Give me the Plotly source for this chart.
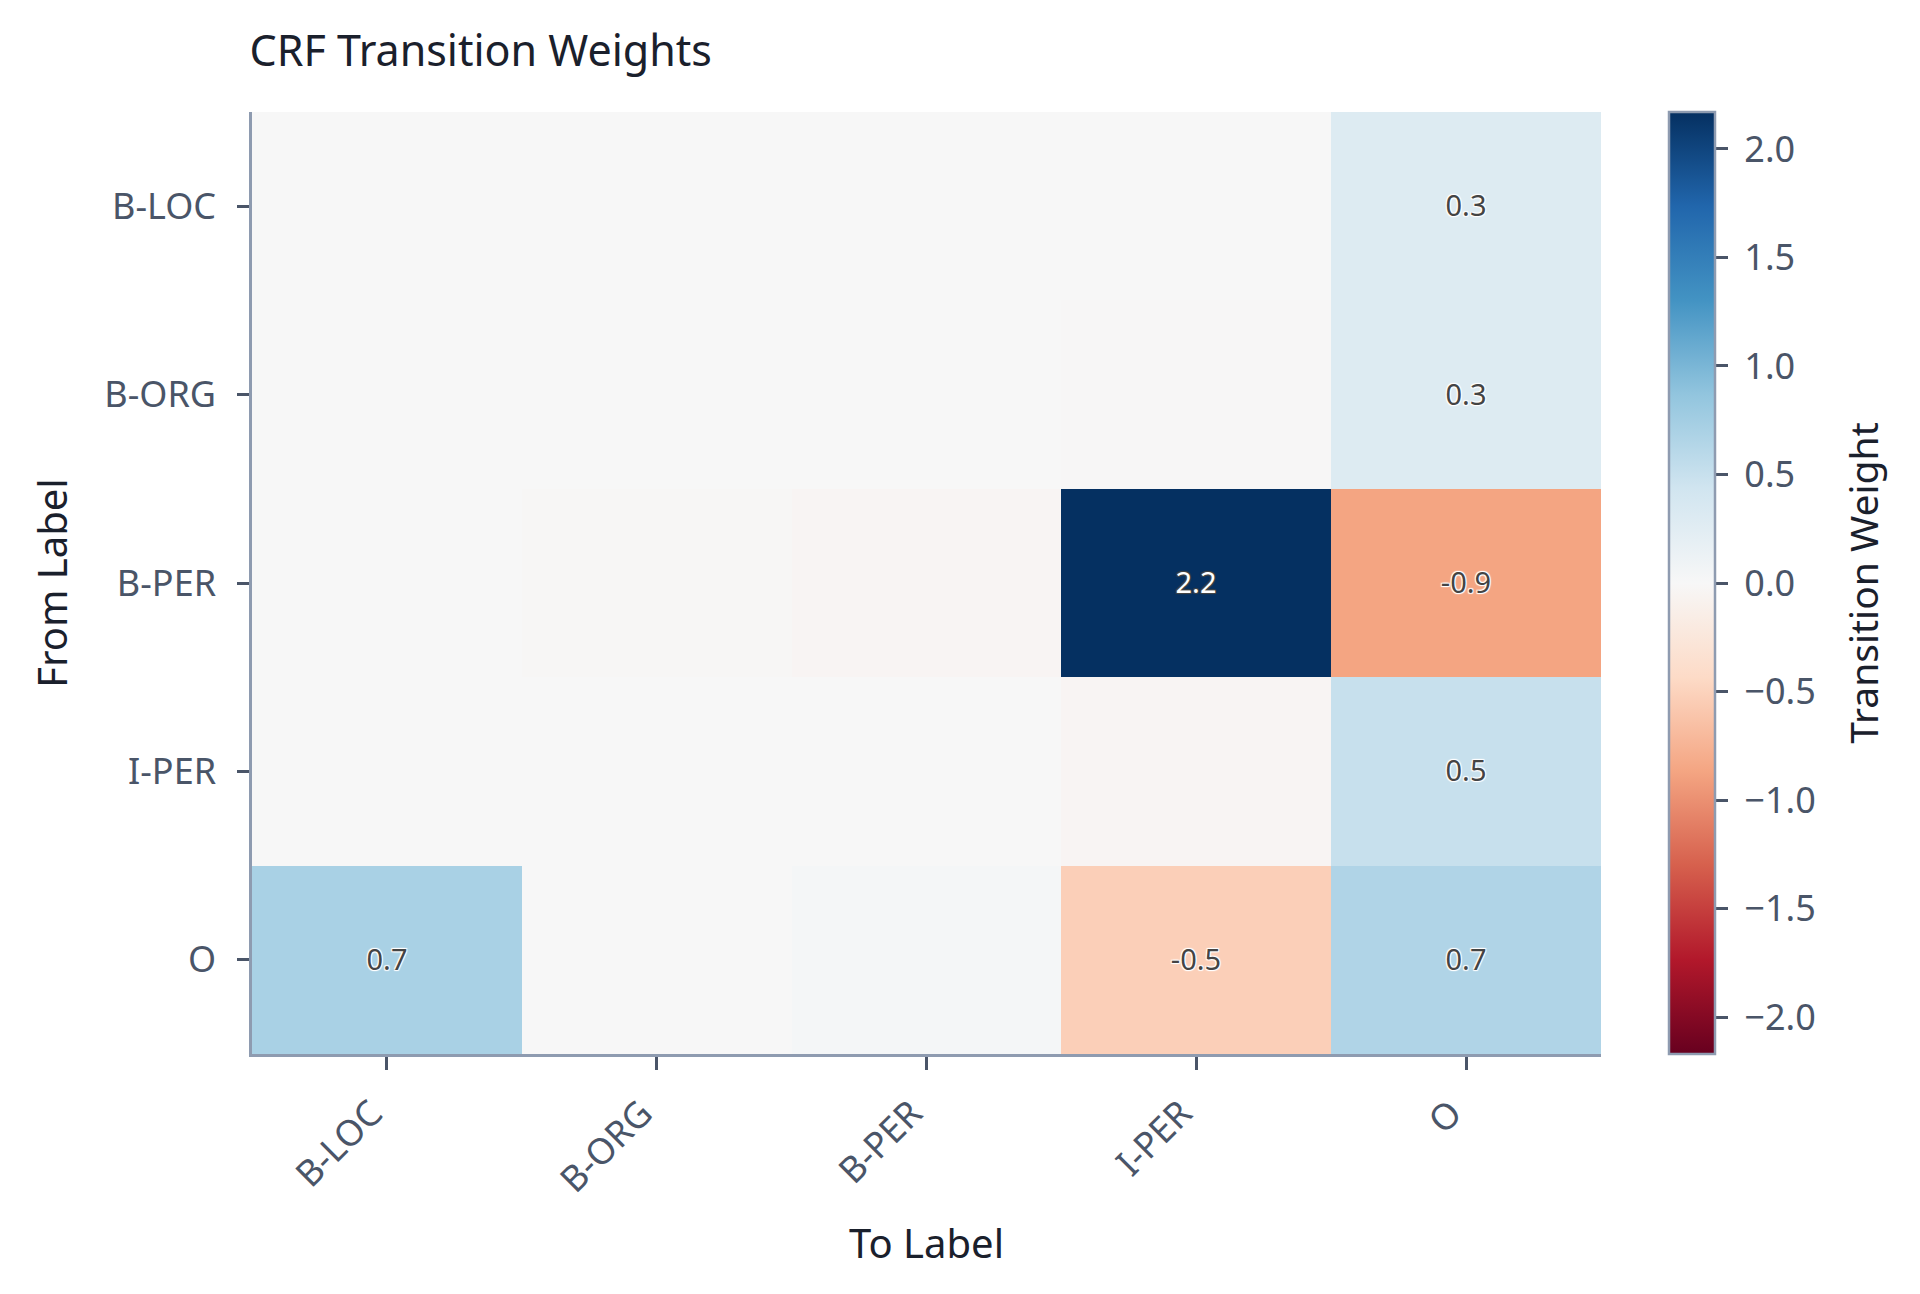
import plotly.graph_objects as go

to_labels = ["B-LOC", "B-ORG", "B-PER", "I-PER", "O"]
from_labels = ["B-LOC", "B-ORG", "B-PER", "I-PER", "O"]

row_b_loc = [0.00, 0.00, 0.00, 0.00, 0.30]
row_b_org = [0.00, 0.00, 0.00, -0.01, 0.30]
row_b_per = [0.00, -0.02, -0.04, 2.17, -0.87]
row_i_per = [0.00, 0.00, 0.00, -0.04, 0.50]
row_o = [0.71, 0.00, 0.03, -0.53, 0.66]

weights = [row_b_loc, row_b_org, row_b_per, row_i_per, row_o]
zlim = max(abs(v) for row in weights for v in row)
text = [[(f"{v:.1f}" if abs(v) >= 0.2 else "") for v in row] for row in weights]

FONT = "Noto Sans"
AXIS_COLOR = "#8e9bb0"
TICK_COLOR = "#4a5568"
TITLE_COLOR = "#1a202c"
NBSP = "\u00a0"

fig = go.Figure(
    go.Heatmap(
        z=weights,
        x=to_labels,
        y=from_labels,
        text=text,
        texttemplate="%{text}",
        textfont=dict(family=FONT, size=29, shadow="auto"),
        colorscale="RdBu",
        zmin=-zlim,
        zmax=zlim,
        zmid=0,
        colorbar=dict(
            title=dict(text="Transition Weight", side="right",
                       font=dict(family=FONT, size=39, color=TITLE_COLOR)),
            x=1.0507, xanchor="left", xpad=0,
            y=0.5, yanchor="middle", len=1.0, lenmode="fraction", ypad=0,
            thickness=46,
            outlinewidth=2.5, outlinecolor=AXIS_COLOR,
            ticks="outside", ticklen=12, tickwidth=3, tickcolor=TICK_COLOR,
            tickfont=dict(family=FONT, size=36, color=TICK_COLOR),
            tickformat=".1f", dtick=0.5,
            tickprefix=NBSP, ticksuffix=NBSP * 2,
        ),
    )
)

fig.update_layout(
    width=1920, height=1294,
    margin=dict(l=244, r=327, t=104, b=248),
    paper_bgcolor="white", plot_bgcolor="white",
    font=dict(family=FONT, color=TITLE_COLOR),
    title=dict(text="CRF Transition Weights", x=241.5 / 1920, xanchor="left",
               y=1 - 43 / 1294, yanchor="middle",
               font=dict(family=FONT, size=43, color=TITLE_COLOR)),
    xaxis=dict(
        title=dict(text="To Label", font=dict(family=FONT, size=40, color=TITLE_COLOR), standoff=29),
        tickangle=-45, tickfont=dict(family=FONT, size=36, color=TICK_COLOR),
        ticks="outside", ticklen=13, tickwidth=3, tickcolor=TICK_COLOR,
        ticklabelstandoff=8, ticklabelshift=-15,
        showline=True, linecolor=AXIS_COLOR, linewidth=2.5, showgrid=False, zeroline=False,
    ),
    yaxis=dict(
        title=dict(text="From Label", font=dict(family=FONT, size=40, color=TITLE_COLOR), standoff=25),
        autorange="reversed", tickfont=dict(family=FONT, size=36, color=TICK_COLOR),
        ticks="outside", ticklen=12, tickwidth=3, tickcolor=TICK_COLOR, ticklabelstandoff=14,
        showline=True, linecolor=AXIS_COLOR, linewidth=2.5, showgrid=False, zeroline=False,
    ),
)

fig.write_html("out.html")
